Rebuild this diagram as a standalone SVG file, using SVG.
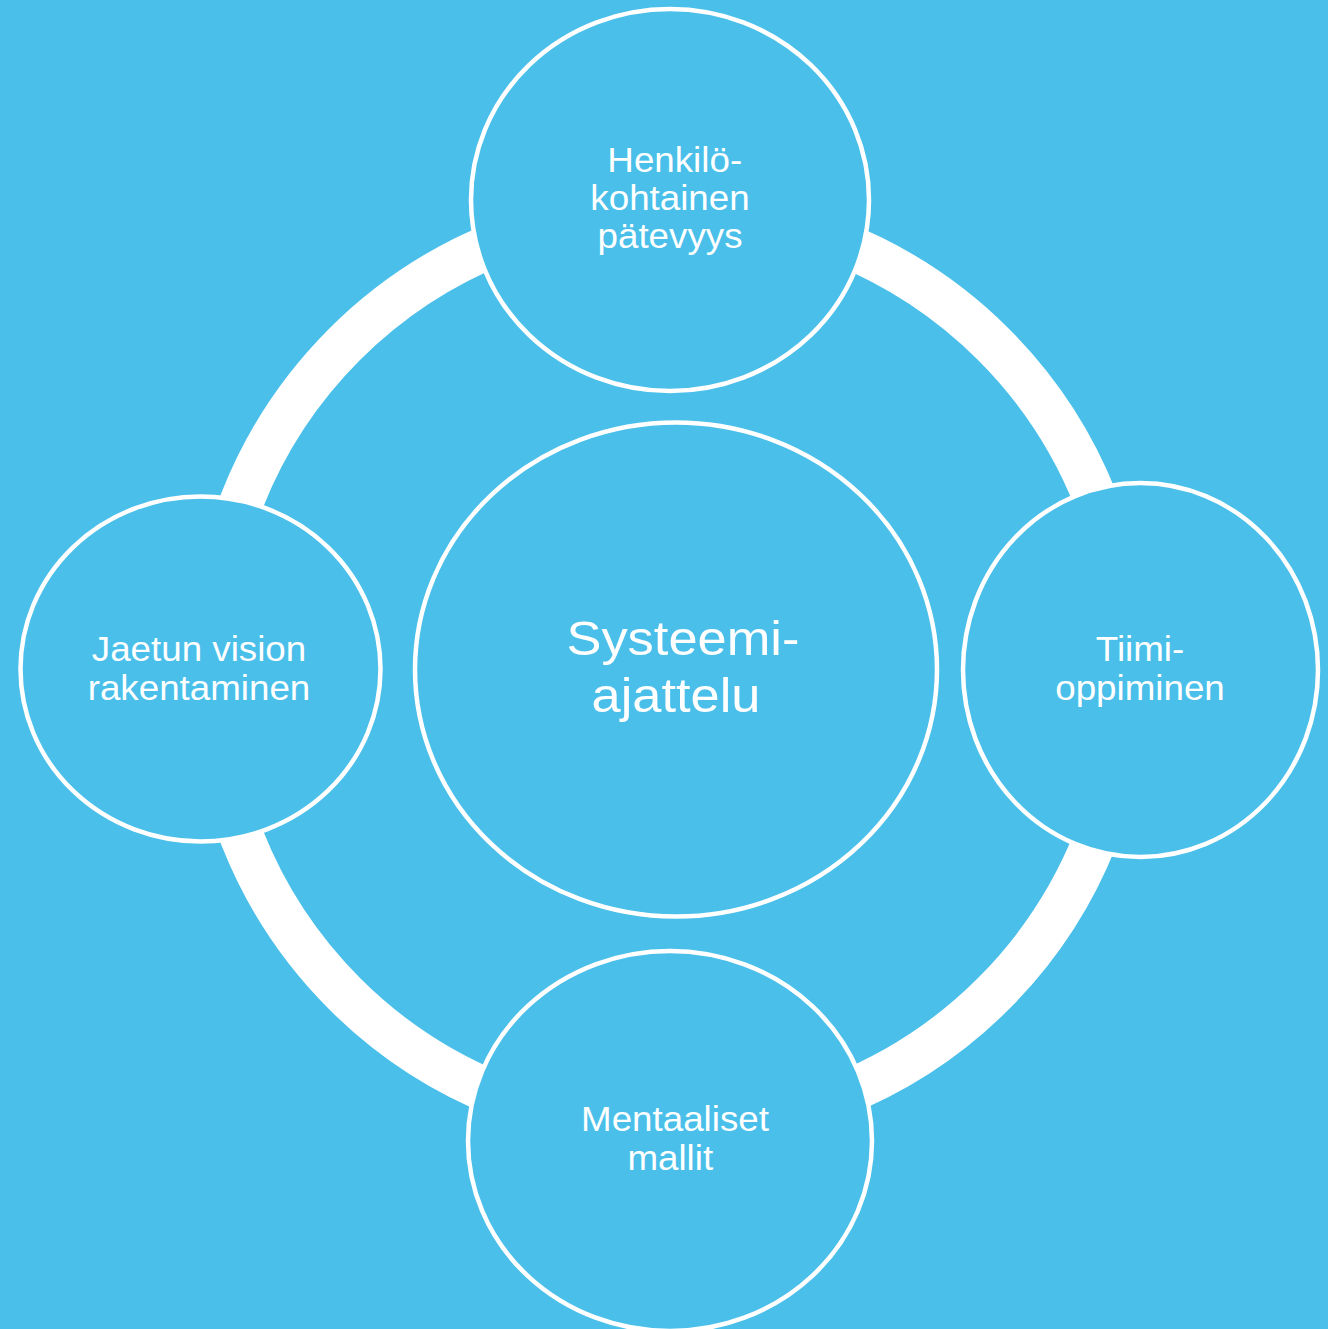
<svg xmlns="http://www.w3.org/2000/svg" width="1328" height="1329" viewBox="0 0 1328 1329">
<style>
.node{fill:#49BFEA;stroke:#FFFFFF;stroke-width:4.5}
.lbl{font-family:"Liberation Sans",Arial,sans-serif;fill:#FFFFFF;text-anchor:middle}
.s{font-size:35px}
.b{font-size:49px}
</style>
<rect width="1328" height="1329" fill="#49BFEA"/>
<g id="connectors">
<circle cx="669" cy="669" r="459" fill="none" stroke="#FFFFFF" stroke-width="44"/>
</g>
<g id="node-top">
<ellipse class="node" cx="670" cy="200" rx="199" ry="191"/>
<g transform="translate(670 0) scale(1.05 1)">
<text class="lbl s" x="4.5" y="172.5">Henkilö-</text>
<text class="lbl s" x="0" y="210.5">kohtainen</text>
<text class="lbl s" x="0" y="248.5">pätevyys</text>
</g>
</g>
<g id="node-right">
<ellipse class="node" cx="1140.5" cy="670" rx="177.5" ry="187"/>
<g transform="translate(1140 0) scale(1.05 1)">
<text class="lbl s" x="0" y="661.5">Tiimi-</text>
<text class="lbl s" x="0" y="700.5">oppiminen</text>
</g>
</g>
<g id="node-bottom">
<ellipse class="node" cx="670" cy="1141" rx="202" ry="190"/>
<g transform="translate(675 0) scale(1.05 1)">
<text class="lbl s" x="0" y="1131.5">Mentaaliset</text>
<text class="lbl s" x="-4.5" y="1170.5">mallit</text>
</g>
</g>
<g id="node-left">
<ellipse class="node" cx="200.5" cy="669" rx="180" ry="172.5"/>
<g transform="translate(199 0) scale(1.05 1)">
<text class="lbl s" x="0" y="661.5">Jaetun vision</text>
<text class="lbl s" x="0" y="700.5">rakentaminen</text>
</g>
</g>
<g id="node-center">
<ellipse class="node" cx="676" cy="669.5" rx="261" ry="247"/>
<g transform="translate(676 0) scale(1.07 1)">
<text class="lbl b" x="6.5" y="655.5">Systeemi-</text>
<text class="lbl b" x="0" y="712">ajattelu</text>
</g>
</g>
</svg>
